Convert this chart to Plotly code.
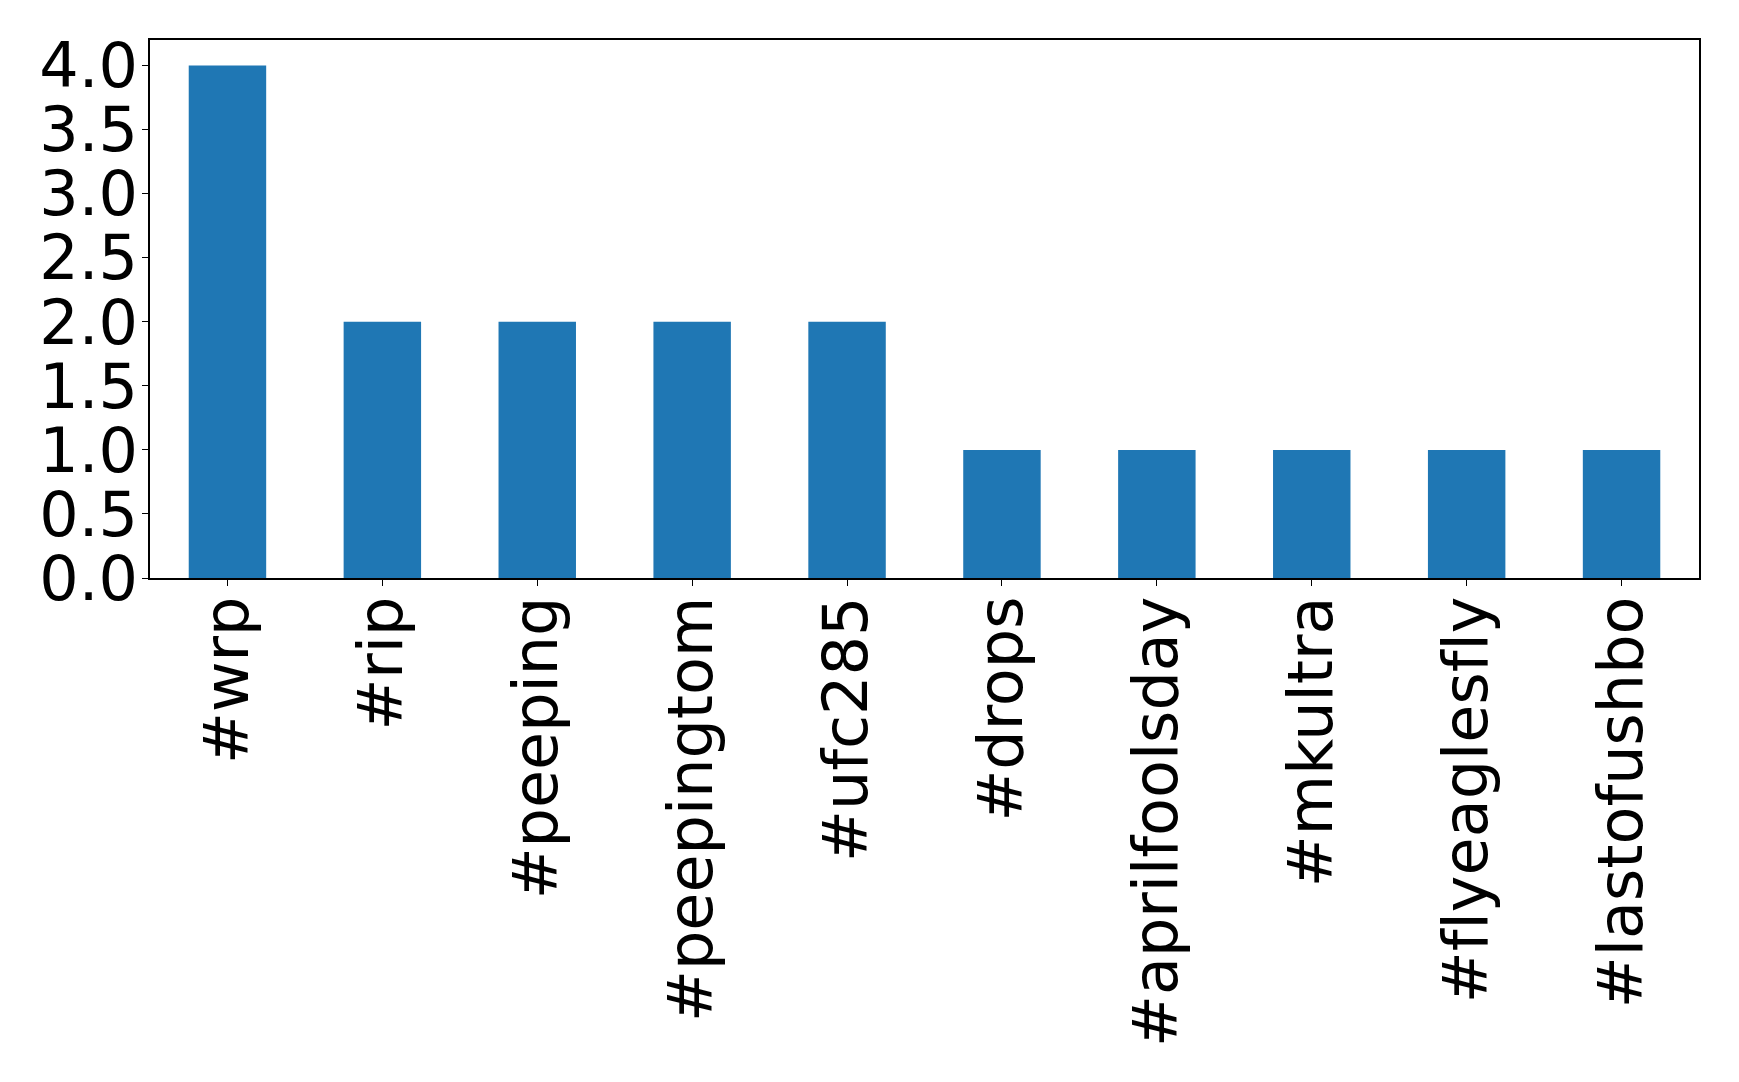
import plotly.graph_objects as go

categories = ["#wrp", "#rip", "#peeping", "#peepingtom", "#ufc285", "#drops",
              "#aprilfoolsday", "#mkultra", "#flyeaglesfly", "#lastofushbo"]
counts = [4, 2, 2, 2, 2, 1, 1, 1, 1, 1]
y_ticks = [0.0, 0.5, 1.0, 1.5, 2.0, 2.5, 3.0, 3.5, 4.0]

# zero-width non-joiner prevents the "fl" ligature so text renders like the reference
x_ticktext = [c.replace("fl", "f\u200cl") for c in categories]

fig = go.Figure(go.Bar(x=categories, y=counts, width=0.5, marker_color="#1f77b4",
                       marker_line_width=0))

font = dict(family="DejaVu Sans", size=62, color="black")
fig.update_layout(
    width=1739, height=1082,
    margin=dict(l=150, r=40, t=40, b=504, autoexpand=False),
    paper_bgcolor="white", plot_bgcolor="white",
    showlegend=False,
    font=font,
)
fig.update_xaxes(
    range=[-0.5, 9.5], tickangle=-90, tickfont=font,
    tickvals=categories, ticktext=x_ticktext,
    showline=True, linecolor="black", linewidth=1.5, mirror=True,
    ticks="outside", ticklen=6, tickcolor="black", showgrid=False,
    automargin=False, ticklabelstandoff=-14,
)
fig.update_yaxes(
    range=[0, 4.2], tickvals=y_ticks, ticktext=[f"{v:.1f}" for v in y_ticks],
    tickfont=font,
    showline=True, linecolor="black", linewidth=1.5, mirror=True,
    ticks="outside", ticklen=6, tickcolor="black", showgrid=False, zeroline=False,
    automargin=False, ticklabelstandoff=-8,
)
fig.write_html("out.html", config={"displayModeBar": False},
               post_script="document.body.style.margin='0';")
